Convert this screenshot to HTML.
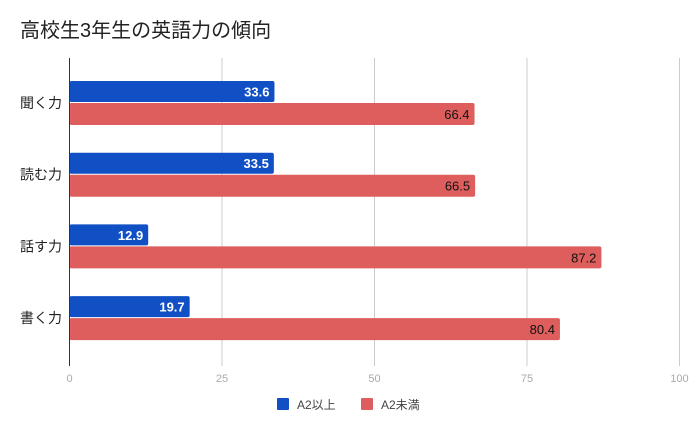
<!DOCTYPE html>
<html><head><meta charset="utf-8"><style>
body{margin:0;background:#fff;}
svg{display:block;font-family:"Liberation Sans","Noto Sans CJK JP",sans-serif;}
</style></head><body>
<svg id="c" width="700" height="433">
<text x="20" y="37" font-size="20" fill="#222">高校生3年生の英語力の傾向</text>
</svg>
<script>
const categories=["聞く力","読む力","話す力","書く力"];
const seriesAbove=[33.6,33.5,12.9,19.7];
const seriesBelow=[66.4,66.5,87.2,80.4];
const ticks=[0,25,50,75,100];
const svg=document.getElementById('c');
const NS='http://www.w3.org/2000/svg';
const x0=69.5,xs=6.1,plotTop=58,firstCenter=103,band=71.7;
const X=v=>x0+v*xs;
function mk(t,a,p){const e=document.createElementNS(NS,t);for(const k in a)e.setAttribute(k,a[k]);(p||svg).appendChild(e);return e;}
ticks.forEach(t=>{
 if(t>0){const g=mk('line',{x1:X(t),x2:X(t),y1:plotTop,y2:366,stroke:'#ccc','stroke-width':1});
 
 }
 const l=mk('text',{x:X(t),y:382,'font-size':11,fill:'#aaa','text-anchor':'middle'});l.textContent=t;
 
 
});
categories.forEach((c,i)=>{
 const cy=firstCenter+band*i;
 const b=mk('rect',{x:x0,y:cy-22,width:X(seriesAbove[i])-x0,height:21,rx:2,fill:'#1150c4'});
 
 
 const r=mk('rect',{x:x0,y:cy,width:X(seriesBelow[i])-x0,height:22,rx:2,fill:'#dd5e5d'});
 
 
 const t1=mk('text',{x:X(seriesAbove[i])-5,y:cy-6.5,'font-size':13,'font-weight':'bold',fill:'#fff','text-anchor':'end'});t1.textContent=seriesAbove[i];
 
 
 const t2=mk('text',{x:X(seriesBelow[i])-5,y:cy+16,'font-size':13,fill:'#111','text-anchor':'end'});t2.textContent=seriesBelow[i];
 
 
 const cl=mk('text',{x:62,y:cy+5,'font-size':14,fill:'#222','text-anchor':'end'});cl.textContent=c;
 
 
});
const ax=mk('line',{x1:x0,x2:x0,y1:plotTop,y2:366,stroke:'#333','stroke-width':1});


[["A2以上","#1150c4",277],["A2未満","#dd5e5d",361]].forEach(([n,c,x])=>{
 const s=mk('rect',{x:x,y:398,width:12,height:12,rx:1,fill:c});
 
 
 const t=mk('text',{x:x+20,y:409,'font-size':12,fill:'#444'});t.textContent=n;
 
 
});
</script>
</body></html>
